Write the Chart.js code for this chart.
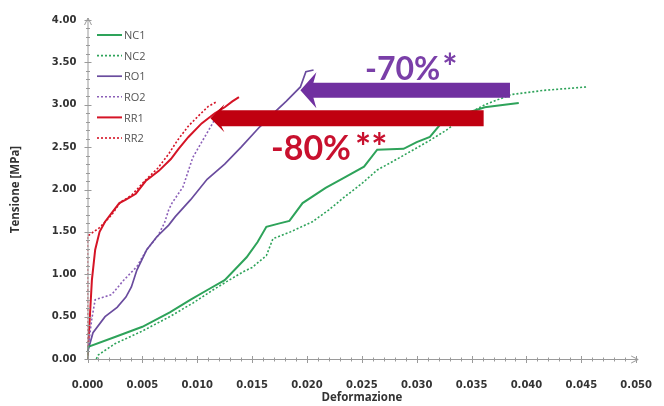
<!DOCTYPE html>
<html>
<head>
<meta charset="utf-8">
<script src="https://cdn.jsdelivr.net/npm/chart.js@4.4.0/dist/chart.umd.min.js"></script>
<style>
  html, body { margin: 0; padding: 0; background: #fff; }
  #wrap { width: 664px; height: 406px; }
</style>
</head>
<body>
<div id="wrap"><canvas id="chart"></canvas></div>
<script>
// strain (x) and stress in MPa (y)
const nc1Strain = [0, 0, 0.0025, 0.005, 0.0075, 0.0094, 0.0110, 0.0125, 0.0145, 0.0155, 0.0163, 0.0175, 0.0184, 0.0196, 0.0217, 0.0234, 0.0252, 0.0264, 0.0288, 0.0300, 0.0312, 0.0321, 0.0335, 0.0350, 0.0362, 0.0380, 0.0393];
const nc1Stress = [0, 0.14, 0.26, 0.38, 0.55, 0.70, 0.82, 0.93, 1.20, 1.38, 1.56, 1.60, 1.63, 1.84, 2.02, 2.14, 2.27, 2.47, 2.48, 2.56, 2.62, 2.76, 2.85, 2.92, 2.97, 3.00, 3.02];

const nc2Strain = [0.0008, 0.0010, 0.0025, 0.005, 0.0075, 0.0096, 0.0115, 0.0129, 0.0142, 0.0150, 0.0163, 0.0169, 0.0185, 0.0205, 0.0220, 0.0234, 0.0250, 0.0264, 0.0285, 0.0312, 0.0327, 0.0345, 0.0362, 0.0386, 0.0416, 0.0455];
const nc2Stress = [0, 0.05, 0.18, 0.33, 0.50, 0.66, 0.82, 0.93, 1.03, 1.08, 1.22, 1.42, 1.50, 1.62, 1.76, 1.91, 2.07, 2.23, 2.38, 2.58, 2.70, 2.88, 3.00, 3.12, 3.17, 3.21];

const ro1Strain = [0, 0.0005, 0.0016, 0.0027, 0.0035, 0.0040, 0.0045, 0.0054, 0.0063, 0.0074, 0.0080, 0.0094, 0.0109, 0.0125, 0.0140, 0.0157, 0.0172, 0.0181, 0.0194, 0.0199, 0.0206];
const ro1Stress = [0.08, 0.31, 0.50, 0.61, 0.73, 0.85, 1.05, 1.29, 1.44, 1.58, 1.68, 1.88, 2.12, 2.30, 2.50, 2.74, 2.93, 3.04, 3.21, 3.39, 3.41];

const ro2Strain = [0, 0.0004, 0.0007, 0.0022, 0.0033, 0.0045, 0.0054, 0.0064, 0.0070, 0.0074, 0.0077, 0.0087, 0.0096, 0.0105, 0.0114, 0.0117];
const ro2Stress = [0.08, 0.48, 0.70, 0.76, 0.93, 1.09, 1.29, 1.45, 1.60, 1.76, 1.84, 2.03, 2.38, 2.58, 2.78, 2.85];

const rr1Strain = [0, 0.0002, 0.0004, 0.0007, 0.0011, 0.0016, 0.0023, 0.0029, 0.0035, 0.0044, 0.0053, 0.0065, 0.0076, 0.0083, 0.0092, 0.0104, 0.0116, 0.0125, 0.0132, 0.0138];
const rr1Stress = [0, 0.46, 0.93, 1.29, 1.50, 1.62, 1.74, 1.84, 1.88, 1.95, 2.10, 2.22, 2.36, 2.48, 2.62, 2.78, 2.90, 2.97, 3.04, 3.09];

const rr2Strain = [0, 0, 0.0011, 0.0022, 0.0030, 0.0040, 0.0052, 0.0064, 0.0074, 0.0082, 0.0092, 0.0102, 0.0110, 0.0117];
const rr2Stress = [0, 1.45, 1.55, 1.70, 1.85, 1.93, 2.10, 2.25, 2.42, 2.58, 2.75, 2.88, 2.98, 3.03];

const seriesNames = ['NC1', 'NC2', 'RO1', 'RO2', 'RR1', 'RR2'];
const xTicks = [0, 0.005, 0.01, 0.015, 0.02, 0.025, 0.03, 0.035, 0.04, 0.045, 0.05];
const yTicks = [0, 0.5, 1, 1.5, 2, 2.5, 3, 3.5, 4];

// arrows: [tip strain, tail strain, stress]
const arrowRO = [0.0194, 0.0385, 3.17];
const arrowRR = [0.0112, 0.0361, 2.84];
const labelRO = '-70%';
const labelRR = '-80%';

function pts(xs, ys) {
  return xs.map((x, i) => ({ x: x, y: ys[i] }));
}

const green = '#2ea35a';
const purple = '#6a4c9e';
const purpleDot = '#8b5fb8';
const red = '#d51426';

const styles = [
  { color: green, width: 2, dash: [] },
  { color: green, width: 1.6, dash: [2, 2] },
  { color: purple, width: 1.7, dash: [] },
  { color: purpleDot, width: 1.6, dash: [2, 2] },
  { color: red, width: 2, dash: [] },
  { color: red, width: 1.6, dash: [2, 2] }
];

const allData = [
  pts(nc1Strain, nc1Stress), pts(nc2Strain, nc2Stress),
  pts(ro1Strain, ro1Stress), pts(ro2Strain, ro2Stress),
  pts(rr1Strain, rr1Stress), pts(rr2Strain, rr2Stress)
];

const datasets = seriesNames.map((name, i) => ({
  label: name,
  data: allData[i],
  showLine: true,
  borderColor: styles[i].color,
  borderWidth: styles[i].width,
  borderDash: styles[i].dash,
  pointRadius: 0,
  tension: 0,
  fill: false
}));

// axis ticks, arrowheads, legend and the two annotation arrows
const decor = {
  id: 'decor',
  afterDatasetsDraw(chart) {
    const ctx = chart.ctx;
    const xs = chart.scales.x, ys = chart.scales.y;
    const x0 = xs.left, y0 = ys.bottom, x1 = xs.right, y1 = ys.top;
    ctx.save();

    // axis lines
    ctx.strokeStyle = '#9a9a9a';
    ctx.lineWidth = 1;
    ctx.beginPath();
    ctx.moveTo(x0 + 0.5, y0); ctx.lineTo(x0 + 0.5, y1 - 2);
    ctx.moveTo(x0, y0 + 0.5); ctx.lineTo(x1 + 2, y0 + 0.5);
    ctx.stroke();
    // arrowheads
    ctx.beginPath();
    ctx.moveTo(x0 - 3, y1 + 5); ctx.lineTo(x0 + 0.5, y1 - 2); ctx.lineTo(x0 + 4, y1 + 5);
    ctx.moveTo(x1 - 5, y0 - 3); ctx.lineTo(x1 + 2, y0 + 0.5); ctx.lineTo(x1 - 5, y0 + 4);
    ctx.stroke();

    // ticks
    ctx.beginPath();
    for (let i = 0; i <= 50; i++) {
      const px = Math.round(xs.getPixelForValue(i / 1000)) + 0.5;
      const h = i % 5 === 0 ? 3 : 1.5;
      ctx.moveTo(px, y0 - h); ctx.lineTo(px, y0 + h + 1);
    }
    for (let i = 0; i <= 40; i++) {
      const py = Math.round(ys.getPixelForValue(i / 10)) + 0.5;
      const w = i % 5 === 0 ? 3 : 1.5;
      ctx.moveTo(x0 - w, py); ctx.lineTo(x0 + w + 1, py);
    }
    ctx.stroke();

    // legend
    ctx.font = '11px "Open Sans"';
    ctx.textBaseline = 'middle';
    seriesNames.forEach((name, i) => {
      const ly = 35 + i * 20.6;
      ctx.strokeStyle = styles[i].color;
      ctx.lineWidth = styles[i].width;
      ctx.setLineDash(styles[i].dash);
      ctx.beginPath();
      ctx.moveTo(97, ly); ctx.lineTo(122, ly);
      ctx.stroke();
      ctx.setLineDash([]);
      ctx.fillStyle = '#555';
      ctx.fillText(name, 124, ly + 1);
    });

    // annotation arrows
    function arrow(a, color, bar, headLen, headHalf) {
      const tip = xs.getPixelForValue(a[0]);
      const tail = xs.getPixelForValue(a[1]);
      const cy = ys.getPixelForValue(a[2]);
      ctx.fillStyle = color;
      ctx.beginPath();
      ctx.moveTo(tip, cy);
      ctx.lineTo(tip + headLen, cy - headHalf);
      ctx.lineTo(tip + headLen - 3, cy - bar / 2);
      ctx.lineTo(tail, cy - bar / 2);
      ctx.lineTo(tail, cy + bar / 2);
      ctx.lineTo(tip + headLen - 3, cy + bar / 2);
      ctx.lineTo(tip + headLen, cy + headHalf);
      ctx.closePath();
      ctx.fill();
    }
    arrow(arrowRO, '#7030a0', 15, 16, 18);
    arrow(arrowRR, '#c00010', 16, 14, 14);

    ctx.textBaseline = 'alphabetic';
    ctx.fillStyle = '#7a3fa8';
    ctx.font = 'bold 32px Lato';
    ctx.fillText(labelRO, 365, 80);
    let w = ctx.measureText(labelRO).width;
    ctx.font = 'bold 36px Lato';
    ctx.fillText('*', 365 + w + 2, 80);

    ctx.fillStyle = '#c8102e';
    ctx.font = 'bold 34px Lato';
    ctx.fillText(labelRR, 271, 160);
    w = ctx.measureText(labelRR).width;
    ctx.font = 'bold 38px Lato';
    ctx.fillText('**', 271 + w + 4, 161);

    ctx.restore();
  }
};

new Chart(document.getElementById('chart'), {
  type: 'scatter',
  data: { datasets: datasets },
  options: {
    responsive: true,
    maintainAspectRatio: false,
    animation: false,
    events: [],
    layout: { padding: { top: 20, right: 17, left: 0, bottom: 0 } },
    plugins: {
      legend: { display: false },
      tooltip: { enabled: false }
    },
    scales: {
      x: {
        type: 'linear',
        min: 0,
        max: 0.05,
        afterFit: s => { s.height = 47; },
        afterBuildTicks: s => { s.ticks = xTicks.map(v => ({ value: v })); },
        grid: { display: false },
        border: { display: false },
        ticks: {
          padding: 12,
          maxRotation: 0,
          color: '#333',
          font: { family: 'DejaVu Sans', weight: 'bold', size: 10 },
          callback: v => v.toFixed(3)
        },
        title: {
          display: true,
          text: 'Deformazione',
          color: '#333',
          font: { family: 'Open Sans', weight: 'bold', size: 11.5 },
          padding: { top: 0, bottom: 1 }
        }
      },
      y: {
        type: 'linear',
        min: 0,
        max: 4,
        afterFit: s => { s.width = 87.5; },
        afterBuildTicks: s => { s.ticks = yTicks.map(v => ({ value: v })); },
        grid: { display: false },
        border: { display: false },
        ticks: {
          padding: 3,
          color: '#333',
          font: { family: 'DejaVu Sans', weight: 'bold', size: 10 },
          callback: v => v.toFixed(2)
        },
        title: {
          display: true,
          text: 'Tensione [MPa]',
          color: '#333',
          font: { family: 'Open Sans', weight: 'bold', size: 11.5 },
          padding: { top: 9, bottom: 0 }
        }
      }
    }
  },
  plugins: [decor]
});
</script>
</body>
</html>
